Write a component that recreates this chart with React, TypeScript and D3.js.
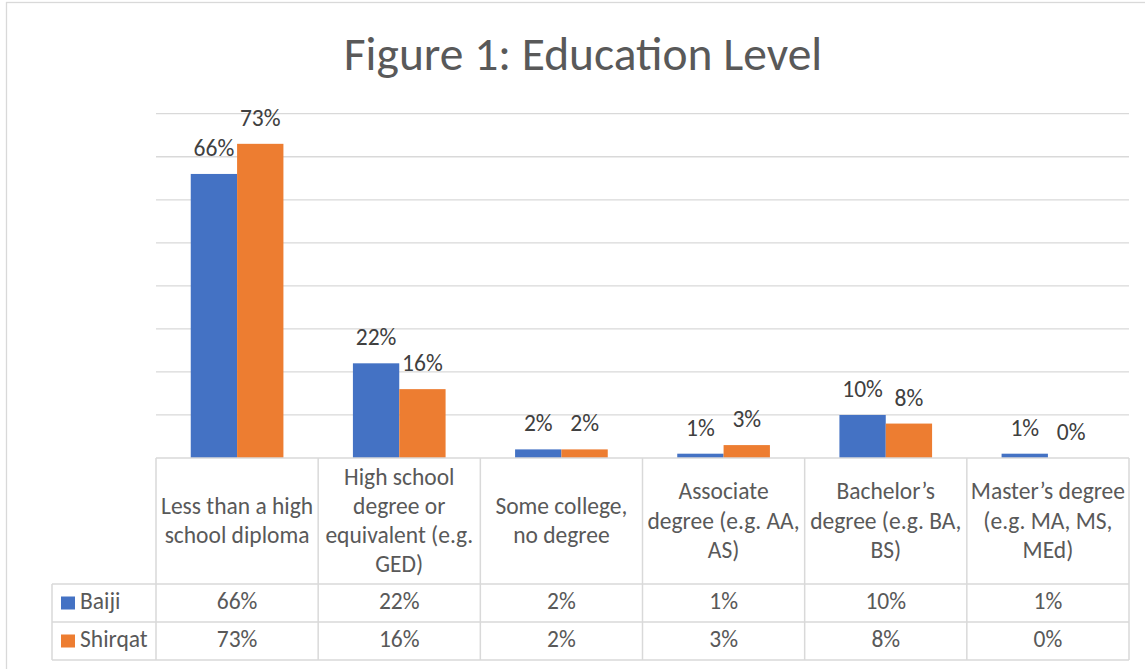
import React from "react";
import * as d3 from "d3";

// Education level shares by town
const categories = [
  "Less than a high\nschool diploma",
  "High school\ndegree or\nequivalent (e.g.\nGED)",
  "Some college,\nno degree",
  "Associate\ndegree (e.g. AA,\nAS)",
  "Bachelor’s\ndegree (e.g. BA,\nBS)",
  "Master’s degree\n(e.g. MA, MS,\nMEd)",
];
const seriesNames = ["Baiji", "Shirqat"];
const baijiValues = [66, 22, 2, 1, 10, 1];
const shirqatValues = [73, 16, 2, 3, 8, 0];
const seriesColors = ["#4472C4", "#ED7D31"];
const yTicks = [0, 10, 20, 30, 40, 50, 60, 70, 80];

const W = 1145;
const H = 669;
const FONT = "Carlito, Calibri, Lato, sans-serif";
const GRID = "#D9D9D9";
const TEXT = "#595959";
const FS = 23.5;

export default function App() {
  const plotLeft = 156;
  const plotRight = 1129;
  const baseY = 458;
  const topY = 113.7;
  const headerBottom = 584;
  const row1Bottom = 622;
  const row2Bottom = 660;
  const legendLeft = 52;

  const x0 = d3.scaleBand<string>().domain(categories).range([plotLeft, plotRight]).padding(0);
  const colW = x0.bandwidth();
  const x1 = d3
    .scaleBand<string>()
    .domain(seriesNames)
    .range([0, colW])
    .paddingInner(0)
    .paddingOuter(0.75);
  const y = d3.scaleLinear().domain([0, 80]).range([baseY, topY]);

  const seriesValues = [baijiValues, shirqatValues];
  const lineGap = 29.3;
  const headerMid = 528.5;
  const rowBaselines = [609, 647];

  return (
    <svg
      width={W}
      height={H}
      style={{ position: "absolute", left: 0, top: 0, background: "#fff" }}
      fontFamily={FONT}
    >
      <rect x={0} y={0} width={W} height={H} fill="#fff" />
      {/* chart frame */}
      <rect x={6.5} y={2.5} width={W + 20} height={H + 20} fill="none" stroke={GRID} strokeWidth={1.3} />

      {/* title */}
      <text x={583} y={69.5} textAnchor="middle" fontSize={47.5} fill={TEXT}>
        Figure 1: Education Level
      </text>

      {/* gridlines */}
      {yTicks.slice(1).map((t) => (
        <line key={t} x1={plotLeft} x2={plotRight} y1={y(t)} y2={y(t)} stroke={GRID} strokeWidth={1.3} />
      ))}

      {/* bars and data labels */}
      {categories.map((c, ci) =>
        seriesNames.map((s, si) => {
          const v = seriesValues[si][ci];
          const bx = (x0(c) ?? 0) + (x1(s) ?? 0);
          const bw = x1.bandwidth();
          return (
            <g key={c + s}>
              <rect x={bx} y={y(v)} width={bw} height={baseY - y(v)} fill={seriesColors[si]} />
              <text
                x={bx + bw / 2}
                y={y(v) - 18}
                textAnchor="middle"
                fontSize={FS}
                fill="#404040"
              >
                {d3.format("d")(v)}%
              </text>
            </g>
          );
        })
      )}

      {/* data table lines */}
      <g stroke={GRID} strokeWidth={1.5}>
        <line x1={plotLeft} x2={plotRight} y1={baseY} y2={baseY} />
        {[headerBottom, row1Bottom, row2Bottom].map((yy) => (
          <line key={yy} x1={legendLeft} x2={plotRight} y1={yy} y2={yy} />
        ))}
        <line x1={legendLeft} x2={legendLeft} y1={headerBottom} y2={row2Bottom} />
        {d3.range(categories.length + 1).map((i) => {
          const xx = plotLeft + i * colW;
          return <line key={i} x1={xx} x2={xx} y1={baseY} y2={row2Bottom} />;
        })}
      </g>

      {/* category headers */}
      {categories.map((c) => {
        const lines = c.split("\n");
        const cx = (x0(c) ?? 0) + colW / 2;
        return (
          <text key={c} textAnchor="middle" fontSize={FS} fill={TEXT}>
            {lines.map((ln, i) => (
              <tspan key={i} x={cx} y={headerMid + (i - (lines.length - 1) / 2) * lineGap}>
                {ln}
              </tspan>
            ))}
          </text>
        );
      })}

      {/* legend keys and value rows */}
      {seriesNames.map((s, si) => (
        <g key={s}>
          <rect x={61} y={rowBaselines[si] - 12.5} width={14} height={13} fill={seriesColors[si]} />
          <text x={80} y={rowBaselines[si]} fontSize={FS} fill={TEXT}>
            {s}
          </text>
          {categories.map((c, ci) => (
            <text
              key={c}
              x={(x0(c) ?? 0) + colW / 2}
              y={rowBaselines[si]}
              textAnchor="middle"
              fontSize={FS}
              fill={TEXT}
            >
              {seriesValues[si][ci]}%
            </text>
          ))}
        </g>
      ))}
    </svg>
  );
}
